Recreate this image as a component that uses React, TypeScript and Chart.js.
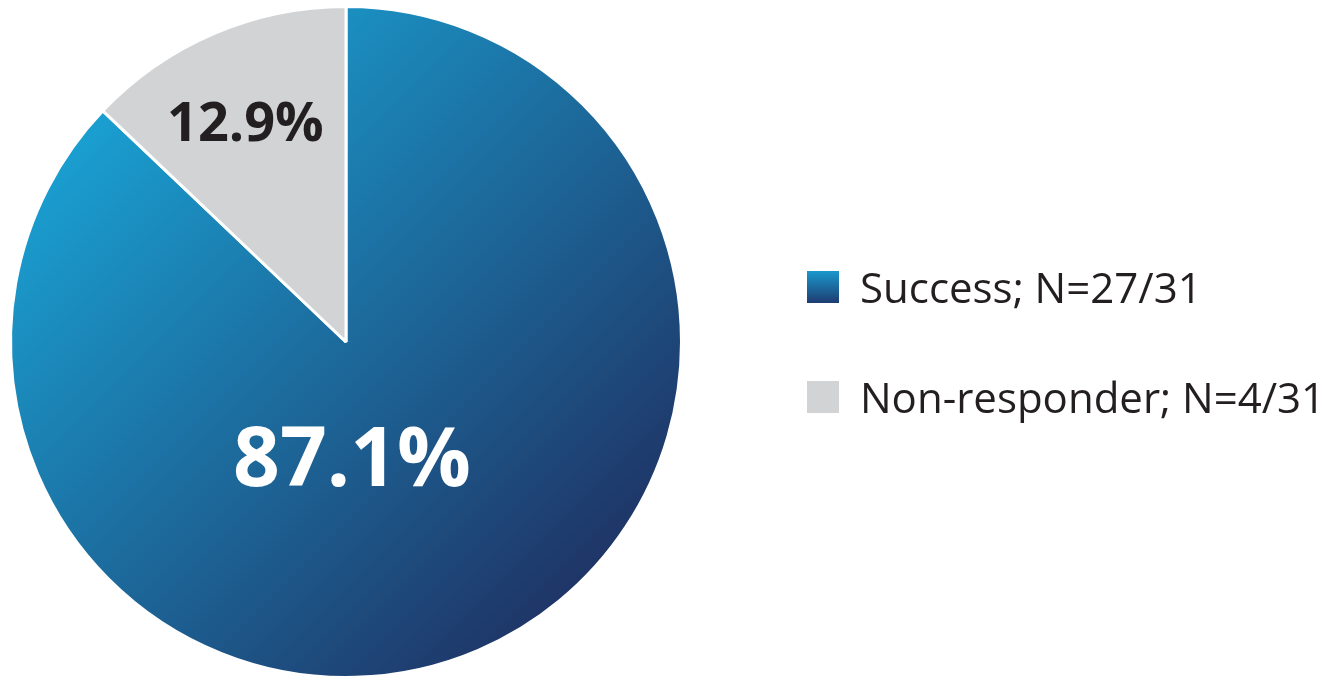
import React, { useEffect, useRef } from "react";
import { Chart, registerables } from "chart.js";

Chart.register(...registerables);

const categories = ["Success; N=27/31", "Non-responder; N=4/31"];
const values = [87.1, 12.9];
const valueLabels = ["87.1%", "12.9%"];

const FONT = '"Open Sans", "Noto Sans", sans-serif';
const TEXT_DARK = "#231f20";
const GRAY = "#d1d3d4";
const BLUE_LIGHT = "#1aa0d2";
const BLUE_DARK = "#1f3466";

// label placement as fractions of the pie radius, relative to its centre
const LABEL_OFFSETS = [
  [0.018, 0.36],
  [-0.3, -0.645],
];
const LABEL_SIZES = [82, 54];
const LABEL_COLORS = ["#ffffff", TEXT_DARK];

export default function App() {
  const ref = useRef<HTMLCanvasElement>(null);

  useEffect(() => {
    const canvas = ref.current!;

    const valueLabelPlugin = {
      id: "valueLabels",
      afterDatasetsDraw(chart: any) {
        const meta = chart.getDatasetMeta(0);
        const c = chart.ctx;
        meta.data.forEach((arc: any, i: number) => {
          const { x, y, outerRadius } = arc.getProps(["x", "y", "outerRadius"], true);
          const [fx, fy] = LABEL_OFFSETS[i];
          c.save();
          c.font = `bold ${LABEL_SIZES[i]}px ${FONT}`;
          c.fillStyle = LABEL_COLORS[i];
          c.textAlign = "center";
          c.textBaseline = "middle";
          c.fillText(valueLabels[i], x + fx * outerRadius, y + fy * outerRadius);
          c.restore();
        });
      },
    };

    const legendPlugin = {
      id: "customLegend",
      afterDraw(chart: any) {
        const c = chart.ctx;
        const boxX = 807;
        const boxSize = 32;
        const baselines = [303, 413];
        categories.forEach((label, i) => {
          const base = baselines[i];
          const top = base - boxSize;
          c.save();
          if (i === 0) {
            const g = c.createLinearGradient(0, top, 0, top + boxSize);
            g.addColorStop(0, "#1a98cc");
            g.addColorStop(1, "#1e3c72");
            c.fillStyle = g;
          } else {
            c.fillStyle = GRAY;
          }
          c.fillRect(boxX, top, boxSize, boxSize);
          c.font = `42px ${FONT}`;
          c.fillStyle = TEXT_DARK;
          c.textAlign = "left";
          c.textBaseline = "alphabetic";
          c.fillText(label, 860, base);
          c.restore();
        });
      },
    };

    const chart = new Chart(canvas, {
      type: "pie",
      data: {
        labels: categories,
        datasets: [
          {
            data: values,
            backgroundColor: (ctx: any) => {
              if (ctx.dataIndex !== 0) return GRAY;
              const chart = ctx.chart;
              const area = chart.chartArea;
              if (!area) return "#1b76a8";
              const cx = (area.left + area.right) / 2;
              const cy = (area.top + area.bottom) / 2;
              const r = Math.min(area.right - area.left, area.bottom - area.top) / 2;
              const k = r * 0.72;
              const g = chart.ctx.createLinearGradient(cx - k, cy - k, cx + k, cy + k);
              g.addColorStop(0, BLUE_LIGHT);
              g.addColorStop(1, BLUE_DARK);
              return g;
            },
            borderColor: "#ffffff",
            borderWidth: 3,
            hoverOffset: 0,
          },
        ],
      },
      options: {
        responsive: false,
        animation: false,
        layout: { padding: { left: 9, right: 658, top: 0, bottom: 0 } },
        plugins: {
          legend: { display: false },
          tooltip: { enabled: false },
        },
      },
      plugins: [valueLabelPlugin, legendPlugin],
    });

    return () => chart.destroy();
  }, []);

  return (
    <div
      style={{
        position: "fixed",
        left: 0,
        top: 0,
        width: 1341,
        height: 676,
        overflow: "hidden",
        background: "#ffffff",
      }}
    >
      <canvas ref={ref} width={1341} height={684} style={{ display: "block" }} />
    </div>
  );
}
